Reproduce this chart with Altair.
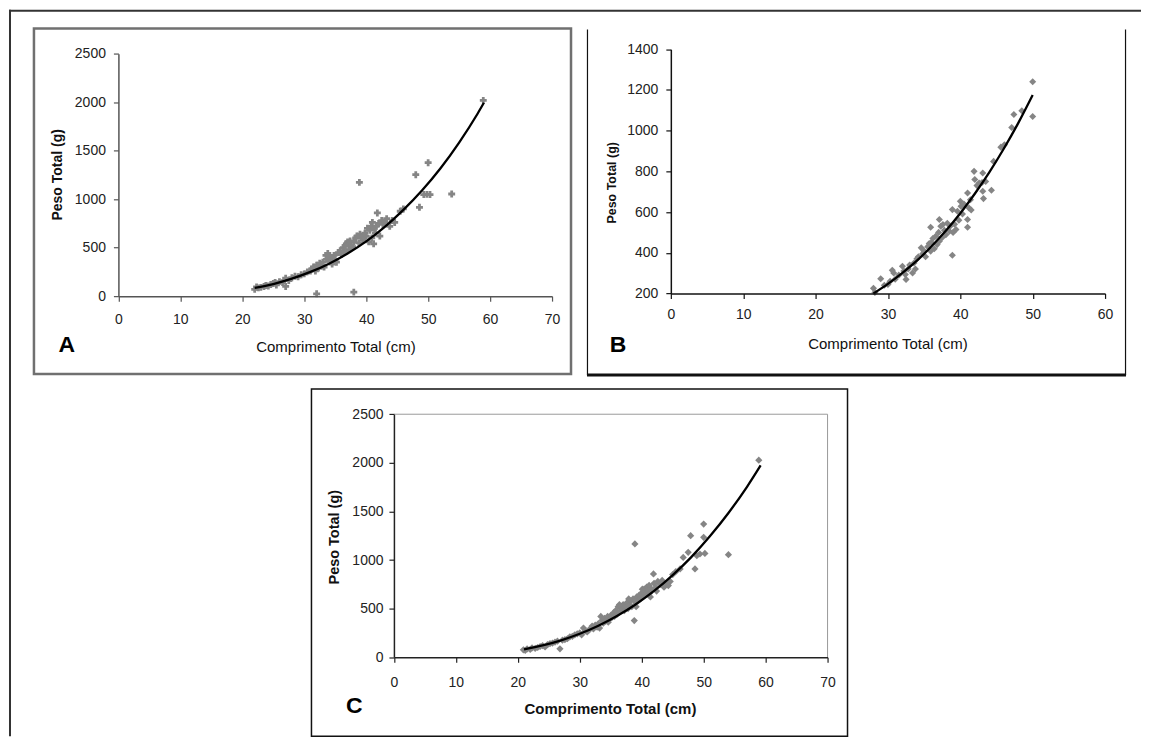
import altair as alt
import pandas as pd

FONT = "Liberation Sans"
PT = "#858585"

# ---------------- Panel A : observed (length cm, weight g) ----------------
a_obs = [(22.0,70),(22.3,95),(22.6,85),(23.0,90),(23.5,100),(23.8,110),(24.2,105),(24.6,120),
         (25.0,130),(25.3,140),(25.5,115),(26.0,150),(26.5,140),(27.0,100),(27.0,185),(27.5,160),
         (28.0,190),(28.5,205),(29.0,200),(29.5,220),(30.0,230),(30.5,250),(31.0,260),(31.2,280),
         (31.5,300),(31.8,260),(32.0,24),(32.0,320),(32.3,290),(32.5,340),(32.8,310),(33.0,350),
         (33.2,300),(33.5,420),(33.6,380),(33.8,440),(34.0,400),(34.2,360),(34.5,330),(34.8,420),
         (35.0,380),(35.2,350),(35.5,450),(35.8,470),(36.0,430),(36.3,500),(36.5,460),(36.8,540),
         (37.0,560),(37.2,480),(37.5,520),(37.8,510),(38.0,41),(38.0,560),(38.3,600),(38.5,620),
         (38.8,550),(38.9,1174),(39.0,640),(39.2,600),(39.5,580),(39.8,650),(40.0,620),(40.2,700),
         (40.4,560),(40.6,680),(40.8,720),(41.0,760),(41.2,540),(41.3,700),(41.5,650),(41.8,858),
         (42.0,750),(42.2,620),(42.5,780),(43.0,760),(43.3,800),(43.8,720),(44.2,780),(44.6,760),
         (45.5,876),(46.0,900),(48.0,1253),(48.6,917),(49.3,1048),(49.8,1050),(50.0,1377),
         (50.3,1048),(53.8,1054),(58.9,2020),
         (33.9,410),(34.4,390),(36.6,520),(37.4,570),(39.6,620),(40.9,600),(41.6,720),(42.7,740)]
a_fit = [(22,85),(25,125),(28,180),(31,250),(34,335),(37,440),(40,565),(43,715),(46,890),
         (49,1090),(52,1320),(55,1585),(58,1885),(59,1995)]

# ---------------- Panel B ----------------
b_obs = [(28.0,225),(28.2,205),(29.0,272),(29.5,240),(30.0,244),(30.3,260),(30.6,314),(30.8,300),
         (31.0,270),(31.5,290),(32.0,334),(32.2,310),(32.4,293),(32.5,269),(32.8,320),(33.0,340),
         (33.4,301),(33.6,350),(33.8,320),(34.0,370),(34.2,380),(34.6,424),(34.8,395),(35.0,408),
         (35.2,380),(35.5,430),(35.7,445),(35.9,408),(35.9,525),(36.0,450),(36.2,470),(36.4,420),
         (36.6,481),(36.8,440),(37.0,500),(37.1,563),(37.1,457),(37.3,530),(37.5,475),(37.6,539),
         (37.8,510),(38.0,489),(38.2,545),(38.5,506),(38.6,530),(38.9,388),(38.9,612),(39.0,500),
         (39.2,540),(39.4,514),(39.6,604),(39.8,560),(40.0,653),(40.1,628),(40.3,590),(40.5,640),
         (41.0,694),(41.0,563),(41.0,525),(41.2,620),(41.4,660),(41.5,610),(41.9,800),(42.0,760),
         (42.3,730),(42.6,743),(43.0,745),(43.1,792),(43.1,702),(43.2,666),(43.5,750),(44.3,707),
         (44.6,849),(45.6,919),(46.1,931),(47.1,1016),(47.4,1079),(48.5,1098),(50.0,1070),(50.0,1240)]
b_fit = [(28,200),(30,247),(32,301),(34,361),(36,431),(38,508),(40,594),(42,690),(44,795),
         (46,911),(48,1037),(50,1175)]

# ---------------- Panel C ----------------
c_obs = [(20.9,76),(21.2,70),(21.5,85),(22.0,80),(22.3,95),(22.8,90),(23.2,100),(23.6,110),
         (24.0,120),(24.4,105),(24.8,130),(25.2,140),(25.6,145),(26.0,155),(26.4,165),(26.8,86),
         (27.2,175),(27.6,180),(28.0,190),(28.4,210),(28.8,215),(29.2,230),(29.6,240),(30.0,250),
         (30.3,230),(30.6,300),(30.9,270),(31.2,260),(31.5,280),(31.8,300),(32.0,320),(32.2,290),
         (32.5,330),(32.8,310),(33.0,345),(33.2,300),(33.4,420),(33.6,380),(33.8,350),(34.0,400),
         (34.2,370),(34.5,420),(34.8,390),(35.0,430),(35.2,410),(35.5,460),(35.8,480),(36.0,440),
         (36.2,520),(36.5,470),(36.8,500),(37.0,540),(37.2,480),(37.4,520),(37.6,560),(37.8,500),
         (38.0,540),(38.2,580),(38.4,520),(38.6,600),(38.8,377),(38.9,1165),(39.0,560),(39.2,620),
         (39.4,580),(39.6,640),(39.8,600),(40.0,660),(40.2,620),(40.4,700),(40.6,650),(40.8,720),
         (41.0,680),(41.2,740),(41.4,620),(41.6,700),(41.9,857),(42.0,760),(42.3,720),(42.6,780),
         (43.0,750),(43.3,790),(43.6,720),(44.0,760),(44.3,737),(44.6,780),(45.0,850),(45.5,880),
         (46.2,908),(46.7,1027),(47.5,1079),(47.9,1250),(48.6,908),(48.9,1045),(49.4,1062),
         (50.0,1370),(50.0,1233),(50.2,1068),(54.0,1055),(58.9,2027),
         (34.6,360),(35.6,420),(36.4,540),(37.9,600),(39.1,520),(40.1,700),(41.3,660),(42.4,680)]
c_fit = [(21,80),(24,121),(27,174),(30,241),(33,324),(36,424),(39,543),(42,682),(45,845),
         (48,1030),(51,1244),(54,1484),(57,1753),(59.2,1973)]

ticks_70 = [0, 10, 20, 30, 40, 50, 60, 70]
ticks_60 = [0, 10, 20, 30, 40, 50, 60]
ticks_2500 = [0, 500, 1000, 1500, 2000, 2500]
ticks_1400 = [200, 400, 600, 800, 1000, 1200, 1400]

X_TITLE = "Comprimento Total (cm)"
Y_TITLE = "Peso Total (g)"


def frame(obs, fit):
    d1 = pd.DataFrame(obs, columns=["L", "W"]); d1["kind"] = "obs"
    d2 = pd.DataFrame(fit, columns=["L", "W"]); d2["kind"] = "fit"
    return pd.concat([d1, d2], ignore_index=True)


ONE = pd.DataFrame({"k": [0]})


def hrule(x1, x2, y, color, w):
    return alt.Chart(ONE).mark_rule(color=color, strokeWidth=w).encode(
        x=alt.value(x1), x2=alt.value(x2), y=alt.value(y))


def vrule(x, y1, y2, color, w):
    return alt.Chart(ONE).mark_rule(color=color, strokeWidth=w).encode(
        x=alt.value(x), y=alt.value(y1), y2=alt.value(y2))


def box(x1, y1, x2, y2, color, w):
    return alt.Chart(ONE).mark_rect(fillOpacity=0, fill="white", stroke=color, strokeWidth=w).encode(
        x=alt.value(x1), x2=alt.value(x2), y=alt.value(y1), y2=alt.value(y2))


def letter(t, x, y):
    return alt.Chart(ONE).mark_text(text=t, font=FONT, fontSize=23, fontWeight="bold",
                                    color="black", align="center", baseline="middle").encode(
        x=alt.value(x), y=alt.value(y))


def panel(obs, fit, xdom, xrng, xvals, ydom, yrng, yvals, xoff, yoff,
          xt, yt, xtw, ytsize, axcol, ylabpad, xlabpad, shape, psize):
    xax = alt.Axis(values=xvals, offset=xoff, grid=False, tickSize=5, labelPadding=xlabpad,
                   domainColor=axcol, tickColor=axcol, domainWidth=1.5, tickWidth=1.2,
                   labelFont=FONT, labelFontSize=14, labelColor="#222", labelFlush=False,
                   labelOverlap=False, format="d", title=X_TITLE, titleFont=FONT, titleFontSize=15,
                   titleFontWeight=xtw, titleColor="#111", titleX=xt[0], titleY=xt[1],
                   titleAngle=0, titleAlign="center", titleBaseline="middle", titleAnchor="start",
                   zindex=1)
    yax = alt.Axis(values=yvals, offset=yoff, grid=False, tickSize=5, labelPadding=ylabpad,
                   domainColor=axcol, tickColor=axcol, domainWidth=1.5, tickWidth=1.2,
                   labelFont=FONT, labelFontSize=14, labelColor="#222", labelFlush=False,
                   labelOverlap=False, format="d", title=Y_TITLE, titleFont=FONT, titleFontSize=ytsize,
                   titleFontWeight="bold", titleColor="#111", titleX=yt[0], titleY=yt[1],
                   titleAngle=270, titleAlign="center", titleBaseline="middle", titleAnchor="start",
                   zindex=1)
    base = alt.Chart(frame(obs, fit)).encode(
        x=alt.X("L:Q", scale=alt.Scale(domain=xdom, range=xrng, nice=False, zero=False), axis=xax),
        y=alt.Y("W:Q", scale=alt.Scale(domain=ydom, range=yrng, nice=False, zero=False), axis=yax),
    )
    pts = base.transform_filter(alt.datum.kind == "obs").mark_point(
        shape=shape, filled=True, size=psize, color=PT, opacity=1)
    line = base.transform_filter(alt.datum.kind == "fit").mark_line(
        color="black", strokeWidth=2.3, interpolate="monotone")
    return pts, line


# ---- A : view covers page (33,27)-(571,373)
a_pts, a_line = panel(a_obs, a_fit, [0, 70], [84.6, 519], ticks_70, [0, 2500], [268, 25.3],
                      ticks_2500, -78, -84.6, (302, 50), (-60.6, 146), "normal", 14,
                      "#555", 8, 11, "cross", 48)
chart_a = alt.layer(
    a_pts, a_line,
    box(0, 0, 538, 346, "#707070", 2.5),
    letter("A", 33, 317),
    hrule(-25, 1109, -18, "#333", 2),
    vrule(-24, -19, 709, "#333", 2),
).properties(width=538, height=346)

# ---- B : view covers page (587,27)-(1127,373)
b_pts, b_line = panel(b_obs, b_fit, [0, 60], [84, 519], ticks_60, [200, 1400], [265.3, 20.7],
                      ticks_1400, -80.7, -84, (301, 49.7), (-59, 154), "normal", 12.5,
                      "#111", 8, 9.5, "diamond", 50)
chart_b = alt.layer(
    b_pts, b_line,
    letter("B", 31, 317),
    vrule(0.5, 1, 347, "#111", 1.2),
    vrule(539.5, 1, 347, "#111", 1.2),
    hrule(0, 540, 347, "#111", 3),
).properties(width=540, height=346)

# ---- C : layout cell covers page (33,388)-(571,737); marks reach to x=848
c_pts, c_line = panel(c_obs, c_fit, [0, 70], [360.6, 795], ticks_70, [0, 2500], [268.7, 25.3],
                      ticks_2500, -80.3, -360.6, (577, 51.3), (-59.6, 148), "bold", 14.5,
                      "#222", 6, 13, "diamond", 52)
chart_c = alt.layer(
    c_pts, c_line,
    box(278, 0, 815, 348, "#111", 1.5),
    hrule(360.6, 795, 25.3, "#9a9a9a", 1),
    vrule(795, 25.3, 268.7, "#9a9a9a", 1),
    letter("C", 321, 318),
).properties(width=538, height=349)

chart = alt.concat(
    chart_a, chart_b, chart_c,
    columns=2,
    spacing={"row": 15, "column": 16},
    bounds="flush",
).properties(padding=0, background="white").configure_view(stroke=None)

chart.save("out.html", embed_options={"renderer": "svg", "actions": False})
